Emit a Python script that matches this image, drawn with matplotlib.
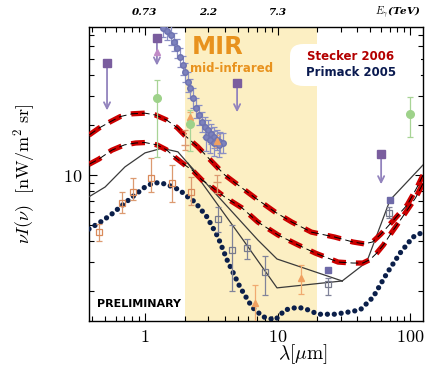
import matplotlib
matplotlib.use('Agg')
import matplotlib.pyplot as plt
import matplotlib.transforms as mtransforms
from matplotlib.patches import FancyBboxPatch
from matplotlib.ticker import FixedLocator, FixedFormatter, LogLocator, NullFormatter

plt.rcParams['mathtext.fontset'] = 'cm'

# ---------------- data ----------------
# Stecker 2006 (two curves)
stk_hi_lam = [0.378, 0.45, 0.55, 0.65, 0.8, 1.0, 1.2, 1.45, 1.75, 2.0, 2.5, 3.0, 4.0, 5.4, 6.8, 9.6,
              12.8, 18, 27, 37, 45, 52, 60, 71, 82, 95, 105, 115, 125]
stk_hi_I = [17.4, 19.2, 21.0, 22.5, 23.4, 23.6, 23.0, 21.5, 19.3, 17.3, 14.8, 12.7, 10.0, 8.35, 7.27, 5.98,
            5.21, 4.53, 4.23, 3.95, 3.85, 3.95, 4.4, 5.1, 5.8, 6.6, 7.6, 8.7, 10.0]
stk_lo_lam = [0.378, 0.45, 0.56, 0.7, 0.85, 1.0, 1.23, 1.45, 1.68, 2.0, 2.3, 2.7, 3.0, 4.0, 5.4, 7.1,
              10.1, 14.3, 19.2, 28.6, 37, 44, 50, 56, 63, 71, 85, 97, 110, 125]
stk_lo_I = [11.6, 12.5, 14.1, 15.2, 15.6, 15.7, 15.2, 14.2, 12.8, 11.5, 10.6, 9.3, 8.8, 7.37, 6.33, 5.21,
            4.35, 3.79, 3.39, 2.99, 2.95, 2.95, 3.1, 3.39, 3.8, 4.4, 5.4, 6.3, 7.3, 8.9]

# Primack 2005
prm_lam = [0.378, 0.45, 0.55, 0.65, 0.8, 1.0, 1.15, 1.3, 1.5, 1.84, 2.0, 2.38, 2.94, 3.55, 4.16, 5.21,
           6.42, 7.76, 9.6, 11.4, 14.3, 17.0, 20.2, 27, 32, 42, 52.6, 67, 84, 105, 125]
prm_I = [4.73, 5.14, 5.74, 6.42, 7.37, 8.47, 8.95, 9.0, 8.7, 8.1, 7.6, 6.88, 5.58, 4.23, 3.08, 2.11,
         1.60, 1.40, 1.34, 1.54, 1.60, 1.54, 1.45, 1.45, 1.48, 1.54, 1.84, 2.57, 3.39, 4.23, 4.53]

# thin black solid model band
blk_common_lam = [0.378, 0.5, 0.706, 1.0, 1.34, 1.77, 2.1]
blk_common_I = [7.4, 8.47, 11.2, 13.6, 14.5, 13.8, 11.8]
blk_a_lam = [2.1, 7.1, 9.9, 30.7]
blk_a_I = [11.8, 4.06, 3.12, 2.30]
blk_b_lam = [2.1, 5.5, 9.9, 30.7]
blk_b_I = [11.8, 4.06, 2.09, 2.30]
blk_right_lam = [30.7, 47, 70.5, 125]
blk_right_I = [2.30, 2.99, 7.07, 11.5]

# blue-grey measurements (dense cluster)
cl_lam = [1.37, 1.47, 1.57, 1.66, 1.74, 1.84, 1.94, 2.0, 2.11, 2.19, 2.30, 2.43, 2.56, 2.69, 2.84, 2.99,
          3.15, 3.32, 3.49, 3.68, 3.88, 2.90, 3.10, 3.30, 3.60]
cl_I = [76.9, 73.7, 69.7, 63.3, 58.2, 51.4, 46.0, 41.7, 36.3, 33.4, 29.1, 25.3, 23.0, 20.9, 19.5, 18.7,
        17.7, 16.9, 16.3, 15.8, 15.6, 17.0, 16.2, 15.7, 15.2]
cl_lo = [68, 65, 61, 56, 51, 45, 40, 36.5, 31.5, 29, 25.3, 22, 20, 18.2, 17, 16.2,
         15.3, 14.6, 14.1, 13.6, 13.5, 14.0, 13.5, 13.0, 12.8]
cl_hi = [87, 84, 79, 72, 66, 58, 52, 47.5, 41.5, 38, 33.3, 29, 26.3, 24, 22.3, 21.5,
         20.3, 19.5, 18.8, 18.2, 18.0, 20.0, 19.2, 18.5, 18.0]

# orange open squares
osq_lam = [0.45, 0.67, 0.81, 1.11, 1.6, 2.22]
osq_I = [4.54, 6.78, 7.9, 9.6, 8.95, 7.9]
osq_lo = [4.0, 5.9, 7.07, 7.9, 6.9, 6.6]
osq_hi = [5.1, 7.9, 9.6, 12.6, 11.5, 9.7]
# orange bars without symbol
obar_lam = [2.0, 3.49]
obar_I = [15.2, 9.1]
obar_lo = [14.1, 7.8]
obar_hi = [18.7, 10.0]

# grey open squares
gsq_lam = [3.56, 4.54, 5.89, 8.05, 24.0, 69.5]
gsq_I = [5.43, 3.53, 3.63, 2.60, 2.2, 5.9]
gsq_lo = [4.55, 2.0, 3.1, 1.89, 1.89, 5.5]
gsq_hi = [6.4, 5.0, 4.1, 3.25, 2.4, 6.4]

# orange triangles
otr_lam = [2.19, 3.49, 6.77, 15.0]
otr_I = [22.3, 16.0, 1.69, 2.40]
otr_lo = [20.5, 14.8, 1.0, 1.92]
otr_hi = [24.0, 17.5, 2.18, 2.87]

# green circles
grn_lam = [1.23, 2.19, 100]
grn_I = [29.1, 20.3, 23.3]
grn_lo = [12.8, 13.95, 16.9]
grn_hi = [37.4, 24.6, 29.5]

# purple upper limits
ul_lam = [0.517, 1.23, 4.95, 60.4]
ul_I = [47.3, 66.9, 35.8, 13.4]
ul_end = [23.6, 44.0, 23.0, 8.47]
# purple plain squares
psq_lam = [24.0, 70.9]
psq_I = [2.68, 7.07]
# mauve triangle
mv_lam = [1.23]
mv_I = [55.1]

top_pos = [1, 3, 10]
top_lab = ['0.73', '2.2', '7.3']

# ---------------- figure ----------------
fig = plt.figure(figsize=(4.35, 3.7), dpi=100)
ax = fig.add_axes([89/435, 1-321/370, 334/435, 294/370])
ax.set_xscale('log')
ax.set_yscale('log')
ax.set_xlim(0.378, 125)
ax.set_ylim(1.32, 78)

ax.axvspan(2, 20, color='#FCEFC3', lw=0, zorder=0)

# black solid band
for lx, ly in [(blk_common_lam, blk_common_I), (blk_a_lam, blk_a_I), (blk_b_lam, blk_b_I),
               (blk_right_lam, blk_right_I)]:
    ax.plot(lx, ly, color='#3a3a3a', lw=0.9, zorder=3)

# Stecker curves
for lx, ly in [(stk_hi_lam, stk_hi_I), (stk_lo_lam, stk_lo_I)]:
    ax.plot(lx, ly, color='#cc0000', lw=3.8, ls=(0, (2.6, 1.9)), zorder=4, solid_capstyle='butt')
    ax.plot(lx, ly, color='black', lw=0.7, ls=(0, (8, 4)), zorder=5)

# Primack
ax.plot(prm_lam, prm_I, color='#0b1f4a', lw=3.8, ls=(0, (0.01, 1.3)), dash_capstyle='round', zorder=4)

ek = dict(capsize=2.5, elinewidth=0.9, capthick=0.9, ls='none', zorder=6)


def yerr(v, lo, hi):
    return [[a - b for a, b in zip(v, lo)], [b - a for a, b in zip(v, hi)]]


ax.errorbar(cl_lam, cl_I, yerr=yerr(cl_I, cl_lo, cl_hi), fmt='o', ms=4, color='#7d82bd',
            ecolor='#8a8fc4', mec='#6d72b0', **ek)
ax.errorbar(osq_lam, osq_I, yerr=yerr(osq_I, osq_lo, osq_hi), fmt='s', ms=4.5, mfc='none',
            mec='#d98a5a', ecolor='#dc9a70', mew=0.9, **ek)
ax.errorbar(obar_lam, obar_I, yerr=yerr(obar_I, obar_lo, obar_hi), fmt='_', ms=6,
            color='#dc9a70', **ek)
ax.errorbar(gsq_lam, gsq_I, yerr=yerr(gsq_I, gsq_lo, gsq_hi), fmt='s', ms=4.5, mfc='none',
            mec='#777a8c', ecolor='#80839a', mew=0.9, **ek)
ax.errorbar(otr_lam, otr_I, yerr=yerr(otr_I, otr_lo, otr_hi), fmt='^', ms=5, color='#f0a060',
            ecolor='#f0aa70', **ek)
ax.errorbar(grn_lam, grn_I, yerr=yerr(grn_I, grn_lo, grn_hi), fmt='o', ms=5.5, color='#9ed28a',
            ecolor='#a8d496', **ek)

for lam, y0, y1 in zip(ul_lam, ul_I, ul_end):
    ax.annotate('', xy=(lam, y1), xytext=(lam, y0),
                arrowprops=dict(arrowstyle='->', color='#9283bd', lw=1.3, mutation_scale=11),
                zorder=6)
ax.plot(ul_lam, ul_I, 's', ms=6, color='#7a5d9e', zorder=7, ls='none')
ax.plot(psq_lam, psq_I, 's', ms=5, color='#6e6aa8', zorder=7, ls='none')
ax.plot(mv_lam, mv_I, '^', ms=5, color='#c08bc6', zorder=7, ls='none')

# ticks
ax.xaxis.set_major_locator(FixedLocator([1, 10, 100]))
ax.xaxis.set_major_formatter(FixedFormatter([r'$1$', r'$10$', r'$100$']))
ax.xaxis.set_minor_locator(LogLocator(base=10, subs=[2, 3, 4, 5, 6, 7, 8, 9]))
ax.xaxis.set_minor_formatter(NullFormatter())
ax.yaxis.set_major_locator(FixedLocator([10]))
ax.yaxis.set_major_formatter(FixedFormatter([r'$10$']))
ax.yaxis.set_minor_locator(LogLocator(base=10, subs=[2, 3, 4, 5, 6, 7, 8, 9]))
ax.yaxis.set_minor_formatter(NullFormatter())
ax.tick_params(which='both', direction='in', top=True, right=True, width=0.8, labelsize=13, pad=5)
ax.tick_params(which='major', length=6)
ax.tick_params(which='minor', length=3.5)
for s in ax.spines.values():
    s.set_linewidth(1.0)

ax.set_xlabel(r'$\lambda[\mu\mathrm{m}]$', fontsize=14)
ax.xaxis.set_label_coords((303-89)/334, -0.072)
ax.set_ylabel(r'$\nu I(\nu)\ \ [\mathrm{nW/m^2\ sr}]$', fontsize=13)
ax.yaxis.set_label_coords(-0.155, 0.5)

# top energy labels
trans = mtransforms.blended_transform_factory(ax.transData, ax.transAxes)
for p, l in zip(top_pos, top_lab):
    ax.text(p, 1.048, l, transform=trans, ha='center', va='center', fontsize=7.5,
            family='DejaVu Serif', style='italic', weight='bold')
fig.text(398/435, 1-12/370, r'$E_{\gamma}$(TeV)', ha='center', va='center', fontsize=7.5,
         family='DejaVu Serif', style='italic', weight='bold')

# annotations
ax.text((192-89)/334, (321-47)/294, 'MIR', transform=ax.transAxes, ha='left', va='center',
        fontsize=17.5, weight='bold', color='#e8921e', family='DejaVu Sans', zorder=8)
ax.text((190-89)/334, (321-68)/294, 'mid-infrared', transform=ax.transAxes, ha='left', va='center',
        fontsize=8.5, weight='bold', color='#e8921e', family='DejaVu Sans', zorder=8)
ax.text((97-89)/334, (321-304)/294, 'PRELIMINARY', transform=ax.transAxes, ha='left', va='center',
        fontsize=8, weight='bold', color='black', family='DejaVu Sans', zorder=8)

box = FancyBboxPatch(((290-89)/334, (321-86)/294), (421-290)/334, (86-44)/294,
                     boxstyle='round,pad=0.0,rounding_size=0.04', transform=ax.transAxes,
                     fc='white', ec='none', zorder=9)
ax.add_patch(box)
ax.text((351-89)/334, (321-57)/294, 'Stecker 2006', transform=ax.transAxes, ha='center',
        va='center', fontsize=8.5, weight='bold', color='#b30000', zorder=10)
ax.text((351-89)/334, (321-72)/294, 'Primack 2005', transform=ax.transAxes, ha='center',
        va='center', fontsize=8.5, weight='bold', color='#0a1a50', zorder=10)

fig.savefig('out.png', dpi=100)
